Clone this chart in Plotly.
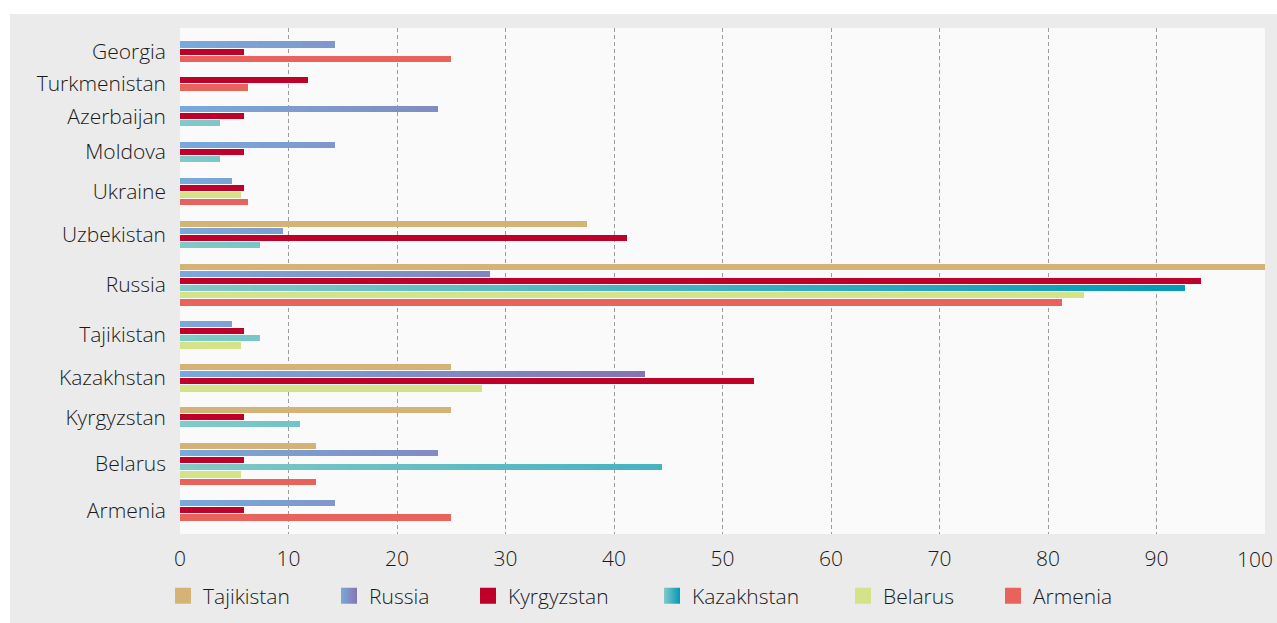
import plotly.graph_objects as go

# Destination countries (rows, top to bottom)
countries = ["Georgia", "Turkmenistan", "Azerbaijan", "Moldova", "Ukraine", "Uzbekistan",
             "Russia", "Tajikistan", "Kazakhstan", "Kyrgyzstan", "Belarus", "Armenia"]

# Reporting countries (series, in the order they are drawn inside each row)
series_names = ["Tajikistan", "Russia", "Kyrgyzstan", "Kazakhstan", "Belarus", "Armenia"]

# Share per destination; None means no bar for that row
tajikistan = [None, None, None, None, None, 37.5, 100.0, None, 25.0, 25.0, 12.5, None]
russia = [14.3, None, 23.8, 14.3, 4.8, 9.5, 28.6, 4.8, 42.9, None, 23.8, 14.3]
kyrgyzstan = [5.9, 11.8, 5.9, 5.9, 5.9, 41.2, 94.1, 5.9, 52.9, 5.9, 5.9, 5.9]
kazakhstan = [None, None, 3.7, 3.7, None, 7.4, 92.6, 7.4, None, 11.1, 44.4, None]
belarus = [None, None, None, None, 5.6, None, 83.3, 5.6, 27.8, None, 5.6, None]
armenia = [25.0, 6.25, None, None, 6.25, None, 81.25, None, None, None, 12.5, 25.0]

x_ticks = [0, 10, 20, 30, 40, 50, 60, 70, 80, 90, 100]

series_values = [tajikistan, russia, kyrgyzstan, kazakhstan, belarus, armenia]

# Solid colours, or (start, end) pairs for series drawn with a horizontal gradient
series_colors = {
    "Tajikistan": "#d3b476",
    "Russia": ("#7aa9db", "#8574ae"),
    "Kyrgyzstan": "#bf0029",
    "Kazakhstan": ("#81cac8", "#0399b8"),
    "Belarus": "#d4e38a",
    "Armenia": "#e9635d",
}

FONT = dict(family="'Open Sans', Lato, sans-serif", size=21, color="#1a1a1a", weight=300)

# ---- row layout: one slot per existing bar, a fixed gap between rows ----
ROW_GAP = 2.0
EDGE = 1.8
BAR_W = 0.86

bars = {s: [] for s in series_names}
tickvals = []
cursor = EDGE
for i, country in enumerate(countries):
    if i > 0:
        cursor += ROW_GAP
    start = cursor
    for name, vals in zip(series_names, series_values):
        v = vals[i]
        if v is None:
            continue
        bars[name].append((cursor + 0.5, v))
        cursor += 1
    tickvals.append((start + cursor) / 2)
span = cursor + EDGE


def hex_rgb(h):
    h = h.lstrip("#")
    return tuple(int(h[k:k + 2], 16) for k in (0, 2, 4))


def ramp(c0, c1, t):
    a, b = hex_rgb(c0), hex_rgb(c1)
    t = min(max(t, 0.0), 1.0)
    return "rgb(%d,%d,%d)" % tuple(round(a[k] + (b[k] - a[k]) * t) for k in range(3))


fig = go.Figure()

for idx, name in enumerate(series_names):
    pts = bars[name]
    color = series_colors[name]
    lg = "legend" if idx == 0 else "legend%d" % (idx + 1)
    if isinstance(color, tuple):
        # gradient along the value axis: overlapping bars, longest first
        vmax = max(v for _, v in pts)
        ys, xs, cs = [], [], []
        for y, v in pts:
            e = v
            while e > 0:
                ys.append(y)
                xs.append(e)
                cs.append(ramp(color[0], color[1], max(e - 0.5, 0) / vmax))
                e -= 1.0
        order = sorted(range(len(xs)), key=lambda k: -xs[k])
        fig.add_trace(go.Bar(
            y=[ys[k] for k in order], x=[xs[k] for k in order], orientation="h",
            width=BAR_W, marker=dict(color=[cs[k] for k in order], line=dict(width=0)),
            name=name, showlegend=False, legend=lg, hoverinfo="skip",
        ))
        sw = dict(color=color[0], gradient=dict(type="horizontal", color=color[1]))
    else:
        fig.add_trace(go.Bar(
            y=[p[0] for p in pts], x=[p[1] for p in pts], orientation="h",
            width=BAR_W, marker=dict(color=color, line=dict(width=0)),
            name=name, showlegend=False, legend=lg,
        ))
        sw = dict(color=color)
    # legend swatch
    fig.add_trace(go.Scatter(
        x=[None], y=[None], mode="markers", name=name, legend=lg,
        marker=dict(symbol="square", size=16, line=dict(width=0), **sw),
    ))

PLOT_L, PLOT_W = 180, 1085
PLOT_T, PLOT_H = 28, 506
swatch_left_px = [175, 341, 480, 664, 855, 1005]
legend_y_px = 596

layout_legends = {}
for idx, px in enumerate(swatch_left_px):
    key = "legend" if idx == 0 else "legend%d" % (idx + 1)
    layout_legends[key] = dict(
        orientation="h", x=(px - 12 - PLOT_L) / PLOT_W, xanchor="left",
        y=(PLOT_T + PLOT_H - legend_y_px) / PLOT_H, yanchor="middle",
        bgcolor="rgba(0,0,0,0)", borderwidth=0, font=FONT, itemsizing="trace",
    )

fig.update_layout(
    width=1277, height=623,
    margin=dict(l=PLOT_L, r=1277 - PLOT_L - PLOT_W, t=PLOT_T, b=623 - PLOT_T - PLOT_H,
                autoexpand=False),
    paper_bgcolor="#ebebeb", plot_bgcolor="#fafafa",
    barmode="overlay", bargap=0,
    font=FONT,
    **layout_legends,
)

# the last tick label sits at the right edge, so it is written right-aligned
tick_text = [str(t) for t in x_ticks[:-1]] + [""]

fig.update_xaxes(
    range=[0, 100], tickvals=x_ticks, ticktext=tick_text,
    showgrid=True, gridcolor="#9c9c9c", gridwidth=1, griddash="4px,3px",
    zeroline=False, showline=False, ticks="", ticklabelstandoff=10, tickfont=FONT,
    automargin=False,
)
fig.add_annotation(
    x=x_ticks[-1], xref="x", y=0, yref="paper", text=str(x_ticks[-1]),
    showarrow=False, xanchor="right", xshift=10, yanchor="top", yshift=-9, font=FONT,
)
fig.update_yaxes(
    range=[span, 0], tickvals=tickvals, ticktext=countries,
    showgrid=False, zeroline=False, showline=False, ticks="",
    ticklabelstandoff=13, tickfont=FONT, automargin=False,
)

# white frame strips along the top and left edges of the page
fig.add_shape(type="rect", xref="paper", yref="paper",
              x0=-PLOT_L / PLOT_W, x1=(10 - PLOT_L) / PLOT_W,
              y0=-(623 - PLOT_T - PLOT_H) / PLOT_H, y1=(PLOT_T + PLOT_H) / PLOT_H,
              fillcolor="white", line=dict(width=0), layer="above")
fig.add_shape(type="rect", xref="paper", yref="paper",
              x0=-PLOT_L / PLOT_W, x1=(1277 - PLOT_L) / PLOT_W,
              y0=(PLOT_T + PLOT_H - 14) / PLOT_H, y1=(PLOT_T + PLOT_H) / PLOT_H,
              fillcolor="white", line=dict(width=0), layer="above")

fig.write_html("out.html")
